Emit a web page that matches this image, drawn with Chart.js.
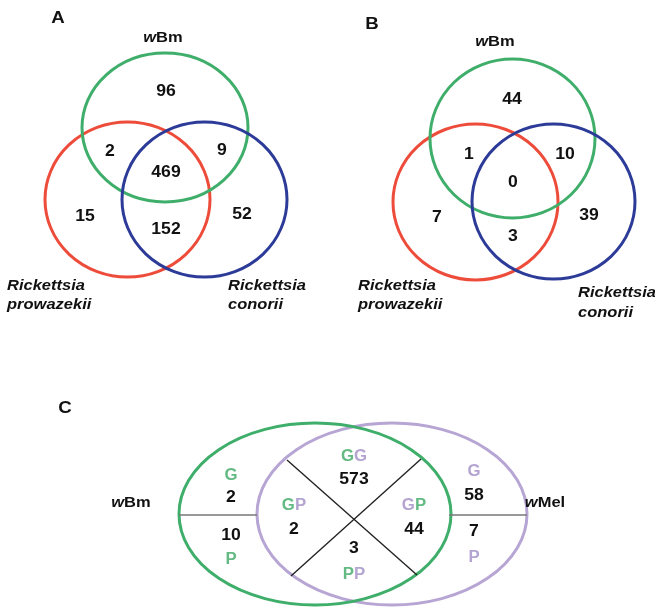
<!DOCTYPE html>
<html>
<head>
<meta charset="utf-8">
<script src="https://cdn.jsdelivr.net/npm/chart.js@4.4.1/dist/chart.umd.min.js"></script>
<style>
html,body{margin:0;padding:0;background:#fff;}
#wrap{width:655px;height:608px;}
</style>
</head>
<body>
<div id="wrap"><canvas id="c" width="655" height="608"></canvas></div>
<script>
// ---------- data ----------
const panelLetters = ['A', 'B', 'C'];
const setNamesAB = ['wBm', 'Rickettsia prowazekii', 'Rickettsia conorii'];
const regionNamesAB = ['wBm only', 'wBm+Rp', 'wBm+Rc', 'all three', 'Rp only', 'Rp+Rc', 'Rc only'];
const countsA = [96, 2, 9, 469, 15, 152, 52];
const countsB = [44, 1, 10, 0, 7, 3, 39];
const setNamesC = ['wBm', 'wMel'];
const regionNamesC = ['wBm G', 'wBm P', 'GG', 'GP (wBm G)', 'GP (wMel G)', 'PP', 'wMel G', 'wMel P'];
const countsC = [2, 10, 573, 2, 44, 3, 58, 7];

// ---------- layout (pixel-space coordinates of the figure) ----------
const COL = {
  green: '#3fae6a', red: '#ee4c3b', blue: '#2d3b98', purple: '#b7a5d4',
  tgreen: '#64ba83', tpurple: '#b4a4d2', text: '#111111', divider: '#777777'
};
const anchorsA = [[166,92],[110,152],[222,151],[166,173],[85,217],[166,230],[242,215]];
const anchorsB = [[512,100],[469,155],[565,155],[513,183],[437,218],[513,237],[589,216]];
const anchorsC = [[231,498],[231,536],[354,480],[294,530],[414,530],[354,549],[474,496],[474,532]];
const ellipses = [
  {cx:127.5, cy:199.5, rx:82.5, ry:77.5, c:COL.red},
  {cx:165,   cy:127.5, rx:83,   ry:74.5, c:COL.green},
  {cx:204.5, cy:199.5, rx:82.5, ry:77.5, c:COL.blue},
  {cx:475.5, cy:202,   rx:82.5, ry:78,   c:COL.red},
  {cx:512.5, cy:138.5, rx:82.5, ry:79.5, c:COL.green},
  {cx:553.5, cy:201.5, rx:81.5, ry:77.5, c:COL.blue},
  {cx:392,   cy:514,   rx:135,  ry:91,   c:COL.purple},
  {cx:315,   cy:514,   rx:136,  ry:91,   c:COL.green}
];
const dividers = [
  {p:[[179,515],[257,515]], c:COL.divider, w:1.6},
  {p:[[449,515],[527,515]], c:COL.divider, w:1.6},
  {p:[[287,460],[417,575]], c:'#222', w:1.4},
  {p:[[421,459],[291,576]], c:'#222', w:1.4}
];
const G = (c)=>({t:'G', color:c});
const P = (c)=>({t:'P', color:c});
const letterTagsC = [
  {x:231, y:476, segs:[G(COL.tgreen)]},
  {x:231, y:560, segs:[P(COL.tgreen)]},
  {x:354, y:457, segs:[G(COL.tgreen), G(COL.tpurple)]},
  {x:294, y:506, segs:[G(COL.tgreen), P(COL.tpurple)]},
  {x:414, y:506, segs:[G(COL.tpurple), P(COL.tgreen)]},
  {x:354, y:575, segs:[P(COL.tgreen), P(COL.tpurple)]},
  {x:474, y:472, segs:[G(COL.tpurple)]},
  {x:474, y:558, segs:[P(COL.tpurple)]}
];
const FONT = '"Liberation Sans", Arial, sans-serif';

function wLabel(name){ // "wBm" -> italic w + regular rest
  return [{t:name[0], italic:true}, {t:name.slice(1)}];
}
const labels = [
  {x:58, y:18, segs:[{t:panelLetters[0]}], size:17},
  {x:372, y:24, segs:[{t:panelLetters[1]}], size:17},
  {x:65, y:408, segs:[{t:panelLetters[2]}], size:17},
  {x:163, y:38, segs:wLabel(setNamesAB[0])},
  {x:495, y:42, segs:wLabel(setNamesAB[0])},
  {x:7, y:286, align:'left', segs:[{t:setNamesAB[1].split(' ')[0], italic:true}]},
  {x:7, y:305, align:'left', segs:[{t:setNamesAB[1].split(' ')[1], italic:true}]},
  {x:228, y:286, align:'left', segs:[{t:setNamesAB[2].split(' ')[0], italic:true}]},
  {x:228, y:305, align:'left', segs:[{t:setNamesAB[2].split(' ')[1], italic:true}]},
  {x:358, y:286, align:'left', segs:[{t:setNamesAB[1].split(' ')[0], italic:true}]},
  {x:358, y:305, align:'left', segs:[{t:setNamesAB[1].split(' ')[1], italic:true}]},
  {x:578, y:293, align:'left', segs:[{t:setNamesAB[2].split(' ')[0], italic:true}]},
  {x:578, y:313, align:'left', segs:[{t:setNamesAB[2].split(' ')[1], italic:true}]},
  {x:131, y:503, segs:wLabel(setNamesC[0])},
  {x:545, y:503, segs:wLabel(setNamesC[1])}
];

function fontStr(seg, size){ return (seg.italic?'italic ':'') + 'bold ' + size + 'px ' + FONT; }
function drawSegs(ctx, x, y, segs, opts){
  opts = opts || {};
  const size = opts.size || 15, align = opts.align || 'center', sx = opts.sx || 1.05;
  ctx.save();
  ctx.textBaseline = 'middle';
  ctx.textAlign = 'left';
  let total = 0;
  const ws = segs.map(s=>{ ctx.font = fontStr(s,size); const w = ctx.measureText(s.t).width; total += w; return w; });
  ctx.translate(x, y);
  ctx.scale(sx, 1);
  let cur = align === 'center' ? -total/2 : 0;
  segs.forEach((s,i)=>{
    ctx.font = fontStr(s,size);
    ctx.fillStyle = s.color || COL.text;
    ctx.fillText(s.t, cur, 0);
    cur += ws[i];
  });
  ctx.restore();
}

const vennPlugin = {
  id: 'venn',
  beforeDatasetsDraw(chart){
    const {ctx, scales:{x, y}} = chart;
    const kx = (x.getPixelForValue(100) - x.getPixelForValue(0))/100;
    const ky = Math.abs(y.getPixelForValue(100) - y.getPixelForValue(0))/100;
    ctx.save();
    ellipses.forEach(e=>{
      ctx.beginPath();
      ctx.ellipse(x.getPixelForValue(e.cx), y.getPixelForValue(e.cy), e.rx*kx, e.ry*ky, 0, 0, Math.PI*2);
      ctx.strokeStyle = e.c; ctx.lineWidth = 3; ctx.stroke();
    });
    dividers.forEach(d=>{
      ctx.beginPath();
      ctx.moveTo(x.getPixelForValue(d.p[0][0]), y.getPixelForValue(d.p[0][1]));
      ctx.lineTo(x.getPixelForValue(d.p[1][0]), y.getPixelForValue(d.p[1][1]));
      ctx.strokeStyle = d.c; ctx.lineWidth = d.w; ctx.stroke();
    });
    ctx.restore();
  },
  afterDatasetsDraw(chart){
    const {ctx, scales:{x, y}} = chart;
    chart.data.datasets.forEach((ds, di)=>{
      const meta = chart.getDatasetMeta(di);
      meta.data.forEach((pt, i)=>{
        drawSegs(ctx, pt.x, pt.y, [{t:String(ds.counts[i])}], {size:16, sx:1.1});
      });
    });
    letterTagsC.forEach(l=> drawSegs(ctx, x.getPixelForValue(l.x), y.getPixelForValue(l.y), l.segs, {size:16, sx:1.05}));
    labels.forEach(l=> drawSegs(ctx, x.getPixelForValue(l.x), y.getPixelForValue(l.y), l.segs, {size:l.size||15, align:l.align, sx:1.1}));
  }
};

function mk(label, counts, anchors){
  return {label, counts, data: anchors.map(a=>({x:a[0], y:a[1]})), pointRadius:0, pointHoverRadius:0, showLine:false};
}

new Chart(document.getElementById('c'), {
  type: 'scatter',
  data: { datasets: [ mk('A', countsA, anchorsA), mk('B', countsB, anchorsB), mk('C', countsC, anchorsC) ] },
  options: {
    responsive: false, animation: false, devicePixelRatio: 1,
    layout: { padding: 0 },
    plugins: { legend: {display:false}, tooltip: {enabled:false} },
    scales: {
      x: { type:'linear', min:0, max:655, display:false },
      y: { type:'linear', min:0, max:608, reverse:true, display:false }
    }
  },
  plugins: [vennPlugin]
});
</script>
</body>
</html>
